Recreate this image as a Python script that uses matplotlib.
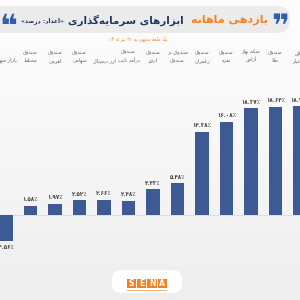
import re
import numpy as np
import matplotlib
matplotlib.use("Agg")
import matplotlib.pyplot as plt
from matplotlib.patches import FancyBboxPatch, Rectangle
from matplotlib.colors import LinearSegmentedColormap

# ---------------- data ----------------
categories = ["بازار سهام", "صندوق\nمختلط", "صندوق\nاهرمی", "صندوق\nسهامی",
              "ارز دیجیتال", "صندوق\nدرآمد ثابت", "صندوق\nارزی", "صندوق در\nصندوق",
              "صندوق\nزعفران", "صندوق\nنقره", "سکه بهار\nآزادی", "صندوق\nطلا",
              "طلای\n۱۸ عیار"]
values = [-4.56, 1.58, 1.97, 2.52, 2.66, 2.48, 4.43, 5.48, 14.38, 16.08, 18.37, 18.64, 18.72]
title_orange = "بازدهی ماهانه"
title_navy = "ابزارهای سرمایه\u200cگذاری"
title_unit = "اعداد: درصد"
subtitle = "یک ماهه منتهی به ۳۱ تیر ۱۴۰۵"

# ------------- simple Persian shaping -------------
FORMS = {
    'ا': ('\uFE8D', '\uFE8E', None, None), 'آ': ('\uFE81', '\uFE82', None, None),
    'ب': ('\uFE8F', '\uFE90', '\uFE91', '\uFE92'), 'پ': ('\uFB56', '\uFB57', '\uFB58', '\uFB59'),
    'ت': ('\uFE95', '\uFE96', '\uFE97', '\uFE98'), 'ث': ('\uFE99', '\uFE9A', '\uFE9B', '\uFE9C'),
    'ج': ('\uFE9D', '\uFE9E', '\uFE9F', '\uFEA0'), 'خ': ('\uFEA5', '\uFEA6', '\uFEA7', '\uFEA8'),
    'د': ('\uFEA9', '\uFEAA', None, None), 'ذ': ('\uFEAB', '\uFEAC', None, None),
    'ر': ('\uFEAD', '\uFEAE', None, None), 'ز': ('\uFEAF', '\uFEB0', None, None),
    'س': ('\uFEB1', '\uFEB2', '\uFEB3', '\uFEB4'), 'ش': ('\uFEB5', '\uFEB6', '\uFEB7', '\uFEB8'),
    'ص': ('\uFEB9', '\uFEBA', '\uFEBB', '\uFEBC'), 'ط': ('\uFEC1', '\uFEC2', '\uFEC3', '\uFEC4'),
    'ع': ('\uFEC9', '\uFECA', '\uFECB', '\uFECC'), 'ف': ('\uFED1', '\uFED2', '\uFED3', '\uFED4'),
    'ق': ('\uFED5', '\uFED6', '\uFED7', '\uFED8'), 'ک': ('\uFB8E', '\uFB8F', '\uFB90', '\uFB91'),
    'گ': ('\uFB92', '\uFB93', '\uFB94', '\uFB95'), 'ل': ('\uFEDD', '\uFEDE', '\uFEDF', '\uFEE0'),
    'م': ('\uFEE1', '\uFEE2', '\uFEE3', '\uFEE4'), 'ن': ('\uFEE5', '\uFEE6', '\uFEE7', '\uFEE8'),
    'و': ('\uFEED', '\uFEEE', None, None), 'ه': ('\uFEE9', '\uFEEA', '\uFEEB', '\uFEEC'),
    'ی': ('\uFBFC', '\uFBFD', '\uFBFE', '\uFBFF'),
}


def shape_line(s):
    out = []
    n = len(s)
    i = 0
    while i < n:
        c = s[i]
        if c not in FORMS:
            if c != '\u200c':
                out.append(c)
            i += 1
            continue
        prev = s[i - 1] if i > 0 else ''
        prev_j = prev in FORMS and FORMS[prev][2] is not None
        if c == 'ل' and i + 1 < n and s[i + 1] in ('ا', 'آ'):
            if s[i + 1] == 'ا':
                out.append('\uFEFC' if prev_j else '\uFEFB')
            else:
                out.append('\uFEF6' if prev_j else '\uFEF5')
            i += 2
            continue
        nxt = s[i + 1] if i + 1 < n else ''
        next_j = nxt in FORMS
        iso, fin, ini, med = FORMS[c]
        if ini is None:
            out.append(fin if prev_j else iso)
        elif prev_j and next_j:
            out.append(med)
        elif prev_j:
            out.append(fin)
        elif next_j:
            out.append(ini)
        else:
            out.append(iso)
        i += 1
    vis = ''.join(out)[::-1]
    vis = re.sub(r'[۰-۹0-9.٫]+', lambda m: m.group(0)[::-1], vis)
    return vis


def fa(s):
    return '\n'.join(shape_line(l) for l in s.split('\n'))


def fa_num(v):
    t = f"{v:.2f}".translate(str.maketrans("0123456789", "۰۱۲۳۴۵۶۷۸۹"))
    return t + "٪"


# ---------------- figure ----------------
W = H = 300
plt.rcParams['font.family'] = ['DejaVu Sans']
fig = plt.figure(figsize=(3, 3), dpi=100)


def px(x, y):
    return x / W, 1 - y / H


# background gradient
bg = fig.add_axes([0, 0, 1, 1], zorder=-10)
grad = np.linspace(0, 1, 256)[:, None]
cmap = LinearSegmentedColormap.from_list("bg", ["#fdfdfd", "#f7f7f7", "#eeeeee"])
bg.imshow(grad, aspect='auto', cmap=cmap, extent=[0, 1, 0, 1])
bg.set_xlim(0, 1); bg.set_ylim(0, 1); bg.axis('off')

# title pill
pill = FancyBboxPatch((-20 / W, 1 - 33 / H), 310 / W, 27 / H,
                      boxstyle="round,pad=0,rounding_size=0.045",
                      transform=fig.transFigure, facecolor="#ebebeb", edgecolor="none", zorder=-5)
fig.patches.append(pill)

navy = "#1f3864"
orange = "#f58220"
blue = "#2f5fae"

fig.text(*px(280, 28), "\u275E", color=blue, fontsize=22, ha='center', va='center', fontweight='bold')
fig.text(*px(8, 28), "\u275D", color=blue, fontsize=22, ha='center', va='center', fontweight='bold')
fig.text(*px(268, 20), fa(title_orange), color=orange, fontsize=8.0, fontweight='bold', ha='right', va='center')
fig.text(*px(184, 20), fa(title_navy), color=navy, fontsize=7.5, fontweight='bold', ha='right', va='center')
fig.text(*px(42, 21), "«" + fa(title_unit) + "»", color=navy, fontsize=4.3, fontweight='bold', ha='center', va='center')
fig.text(*px(138, 39), fa(subtitle), color=orange, fontsize=3.3, ha='center', va='center')

# ---------------- bars ----------------
ax = fig.add_axes([0, 45 / H, 1, 155 / H])
ax.set_facecolor('none')
x = np.arange(len(values))
ax.bar(x, values, width=0.54, color="#3e5a95", zorder=3)
ax.axhline(0, color="#dedede", lw=0.8, zorder=1)
ax.set_xlim(-0.245, 12.0)
ax.set_ylim(-6.9, 19.83)
ax.axis('off')

for xi, v in zip(x, values):
    if v >= 0:
        ax.annotate(fa_num(v), (xi, v), xytext=(0, 2.5), textcoords='offset points',
                    ha='center', va='bottom', fontsize=4.0, color="#444444", fontweight='bold')
    else:
        ax.annotate("-" + fa_num(-v), (xi, v), xytext=(0, -2.5), textcoords='offset points',
                    ha='center', va='top', fontsize=4.0, color="#444444", fontweight='bold')

for xi, c in zip(x, categories):
    xf = ax.transData.transform((xi, 0))[0] / W
    fig.text(xf, 1 - 63 / H, fa(c), ha='center', va='bottom', fontsize=3.6,
             color="#666666", linespacing=1.6, multialignment='center')

# ---------------- logo ----------------
logo_bg = FancyBboxPatch((112 / W, 1 - 293 / H), 70 / W, 23 / H,
                         boxstyle="round,pad=0,rounding_size=0.03",
                         transform=fig.transFigure, facecolor="#ffffff", edgecolor="none", zorder=-4)
fig.patches.append(logo_bg)
for k, ch in enumerate("SENA"):
    x0 = 127 + k * 10.2
    fig.patches.append(Rectangle((x0 / W, 1 - 288 / H), 9.2 / W, 9 / H, transform=fig.transFigure,
                                 facecolor="#f58220", edgecolor="none", zorder=-3))
    fig.text((x0 + 4.6) / W, 1 - 283.5 / H, ch, color="white", fontsize=5.5, fontweight='bold',
             ha='center', va='center')
fig.patches.append(Rectangle((127 / W, 1 - 291 / H), 40 / W, 1 / H, transform=fig.transFigure,
                             facecolor="#f6b27a", edgecolor="none", zorder=-3))

fig.savefig("out.png", dpi=100)
